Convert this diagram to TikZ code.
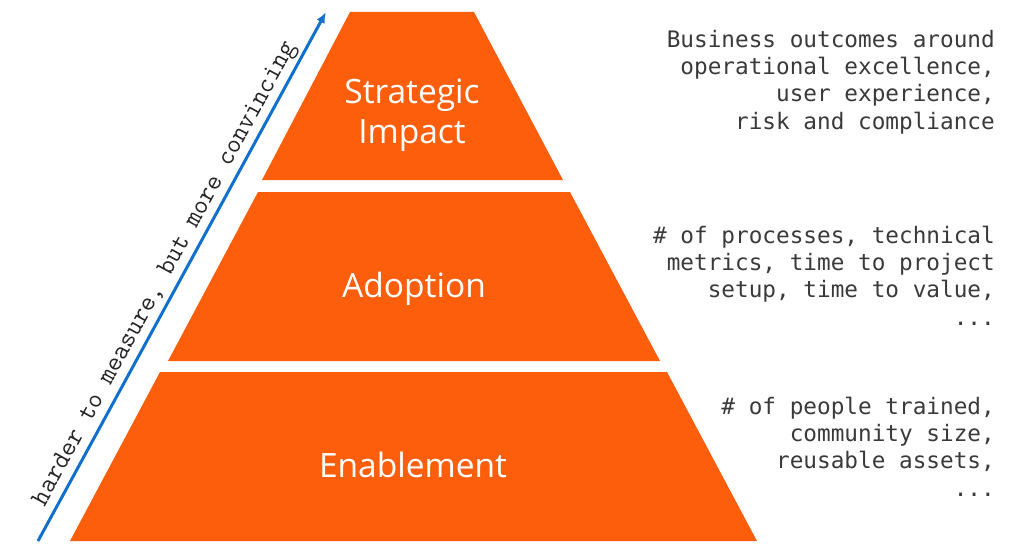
\documentclass[tikz,border=0pt]{standalone}
\usepackage{fontspec}
\setmainfont{Open Sans}
\newfontfamily\notemono{DejaVu Sans Mono}
\usetikzlibrary{arrows.meta,calc}
\definecolor{pyrorange}{RGB}{252,94,12}
\definecolor{axisblue}{RGB}{17,112,204}
\definecolor{notegray}{RGB}{58,58,58}
\begin{document}
\begin{tikzpicture}[x=1pt,y=-1pt,
  tier/.style={fill=pyrorange},
  tierlabel/.style={text=white,font=\fontsize{33.5}{40}\selectfont,align=center,inner sep=0pt},
  note/.style={text=notegray,font=\notemono\fontsize{22.7}{27.3}\selectfont,align=right,anchor=base east,inner sep=0pt},
  axisline/.style={draw=axisblue,line width=3pt,-{Latex[length=11pt,width=9pt]}},
  axislabel/.style={text=black!85,font=\ttfamily\fontsize{26.8}{30}\selectfont,inner sep=4pt,anchor=south}
]
\useasboundingbox (0,0) rectangle (1024,543);
\fill[white] (0,0) rectangle (1024,543);

% tiers
\path[tier] (350,12) -- (474,12) -- (563,180) -- (262,180) -- cycle;
\path[tier] (258,192) -- (570,192) -- (660,361) -- (168,361) -- cycle;
\path[tier] (160,372) -- (667,372) -- (757,541) -- (70,541) -- cycle;

\node[tierlabel] (strategic) at (412,115) {Strategic\\Impact};
\node[tierlabel] (adoption) at (414,289) {Adoption};
\node[tierlabel] (enablement) at (413,465) {Enablement};

% axis
\coordinate (axstart) at (38,541);
\coordinate (axend) at (326,12);
\draw[axisline] (axstart) -- (axend);
\node[axislabel,rotate=61.4] (axtext) at ($(axstart)!0.49!(axend)$) {harder to measure, but more convincing};

% notes
\node[note] (note1) at (995,129) {Business outcomes around\\operational excellence,\\user experience,\\risk and compliance};
\node[note] (note2) at (995,325) {\# of processes, technical\\metrics, time to project\\setup, time to value,\\...};
\node[note] (note3) at (995,496) {\# of people trained,\\community size,\\reusable assets,\\...};
\end{tikzpicture}
\end{document}
